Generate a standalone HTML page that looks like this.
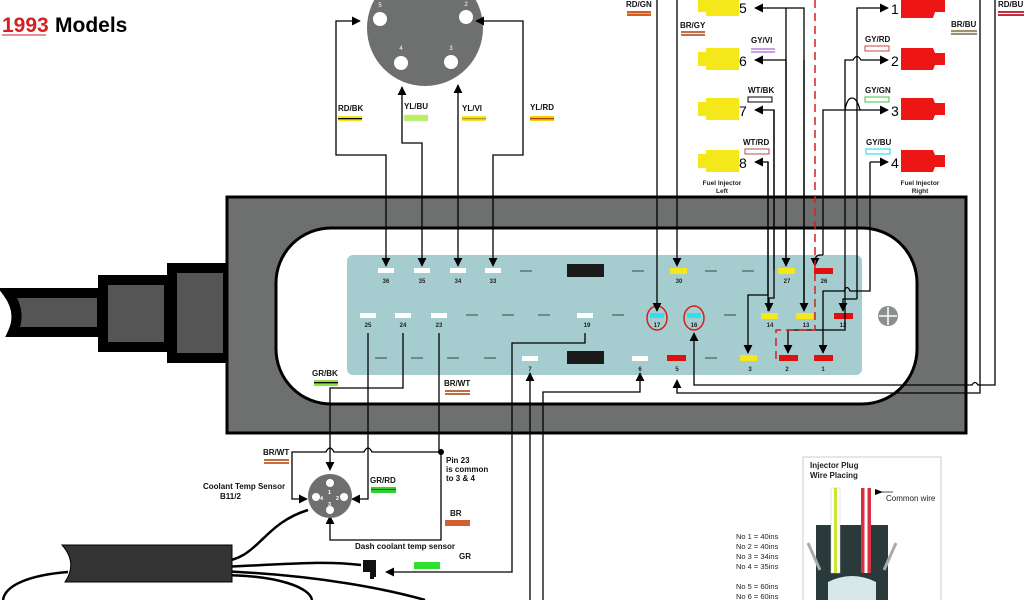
<!DOCTYPE html>
<html><head><meta charset="utf-8"><style>
html,body{margin:0;padding:0;background:#fff;}
svg{display:block;font-family:"Liberation Sans",Arial,sans-serif;}
</style></head><body>
<svg width="1024" height="600" viewBox="0 0 1024 600" xmlns="http://www.w3.org/2000/svg">
<defs>
<marker id="a" viewBox="0 0 10 10" refX="9" refY="5" markerWidth="9" markerHeight="9" markerUnits="userSpaceOnUse" orient="auto"><path d="M0,0 L10,5 L0,10 z" fill="#000"/></marker>
</defs>
<rect width="1024" height="600" fill="#fff"/>
<text x="2" y="32" font-size="21" font-weight="bold" fill="#d42020">1993</text>
<line x1="2" y1="35" x2="46" y2="35" stroke="#d42020" stroke-width="1"/>
<text x="55" y="32" font-size="21" font-weight="bold" fill="#000">Models</text>

<!-- cable into box -->
<path d="M8,293 L102,293 L102,332 L13,332 Q22,312 8,293z" fill="#555" stroke="#000" stroke-width="10"/>
<rect x="103" y="280" width="66" height="67" fill="#555" stroke="#000" stroke-width="10"/>
<rect x="172" y="268" width="56" height="90" fill="#555" stroke="#000" stroke-width="10"/>

<rect x="227" y="197" width="739" height="236" fill="#6e7070" stroke="#000" stroke-width="3"/>
<rect x="276" y="228" width="641" height="176" rx="55" fill="#fff" stroke="#000" stroke-width="3"/>
<rect x="347" y="255" width="515" height="120" rx="6" fill="#a5cdd0"/>

<g stroke="#6a8a8c" stroke-width="2">
<line x1="520" y1="271" x2="532" y2="271"/><line x1="632" y1="271" x2="644" y2="271"/><line x1="705" y1="271" x2="717" y2="271"/><line x1="742" y1="271" x2="754" y2="271"/>
<line x1="466" y1="315" x2="478" y2="315"/><line x1="502" y1="315" x2="514" y2="315"/><line x1="538" y1="315" x2="550" y2="315"/><line x1="612" y1="315" x2="624" y2="315"/><line x1="724" y1="315" x2="736" y2="315"/>
<line x1="375" y1="358" x2="387" y2="358"/><line x1="411" y1="358" x2="423" y2="358"/><line x1="447" y1="358" x2="459" y2="358"/><line x1="484" y1="358" x2="496" y2="358"/><line x1="705" y1="358" x2="717" y2="358"/>
</g>
<rect x="567" y="264" width="37" height="13" fill="#1a1a1a"/>
<rect x="567" y="351" width="37" height="13" fill="#1a1a1a"/>

<g>
<rect x="378" y="268" width="16" height="5" fill="#fff"/><rect x="414" y="268" width="16" height="5" fill="#fff"/><rect x="450" y="268" width="16" height="5" fill="#fff"/><rect x="485" y="268" width="16" height="5" fill="#fff"/>
<rect x="670" y="268" width="17" height="6" fill="#f5e81a"/><rect x="778" y="268" width="17" height="6" fill="#f5e81a"/><rect x="814" y="268" width="19" height="6" fill="#e01010"/>
<rect x="360" y="313" width="16" height="5" fill="#fff"/><rect x="395" y="313" width="16" height="5" fill="#fff"/><rect x="431" y="313" width="16" height="5" fill="#fff"/><rect x="577" y="313" width="16" height="5" fill="#fff"/>
<ellipse cx="657" cy="318" rx="10" ry="12" fill="none" stroke="#d02020" stroke-width="1.5"/><rect x="650" y="313" width="14" height="5" fill="#30e0f0"/>
<ellipse cx="694" cy="318" rx="10" ry="12" fill="none" stroke="#d02020" stroke-width="1.5"/><rect x="687" y="313" width="14" height="5" fill="#30e0f0"/>
<rect x="761" y="313" width="17" height="6" fill="#f5e81a"/><rect x="796" y="313" width="17" height="6" fill="#f5e81a"/><rect x="834" y="313" width="19" height="6" fill="#e01010"/>
<rect x="522" y="356" width="16" height="5" fill="#fff"/><rect x="632" y="356" width="16" height="5" fill="#fff"/><rect x="667" y="355" width="19" height="6" fill="#e01010"/>
<rect x="740" y="355" width="17" height="6" fill="#f5e81a"/><rect x="779" y="355" width="19" height="6" fill="#e01010"/><rect x="814" y="355" width="19" height="6" fill="#e01010"/>
</g>
<g font-size="6" font-weight="bold" text-anchor="middle" fill="#222">
<text x="386" y="283">36</text><text x="422" y="283">35</text><text x="458" y="283">34</text><text x="493" y="283">33</text><text x="679" y="283">30</text><text x="787" y="283">27</text><text x="824" y="283">26</text>
<text x="368" y="327">25</text><text x="403" y="327">24</text><text x="439" y="327">23</text><text x="587" y="327">19</text><text x="657" y="327">17</text><text x="694" y="327">16</text><text x="770" y="327">14</text><text x="806" y="327">13</text><text x="843" y="327">12</text>
<text x="530" y="371">7</text><text x="640" y="371">6</text><text x="677" y="371">5</text><text x="750" y="371">3</text><text x="787" y="371">2</text><text x="823" y="371">1</text>
</g>
<circle cx="888" cy="316" r="10" fill="#8a8e8e"/><path d="M888,307 V325 M879,316 H897" stroke="#fff" stroke-width="1.5"/>

<!-- top round connector -->
<circle cx="425" cy="28" r="58" fill="#6e7070"/>
<circle cx="380" cy="19" r="7" fill="#fff"/><circle cx="466" cy="17" r="7" fill="#fff"/><circle cx="401" cy="63" r="7" fill="#fff"/><circle cx="451" cy="62" r="7" fill="#fff"/>
<g font-size="6" fill="#fff" text-anchor="middle"><text x="380" y="7">5</text><text x="466" y="6">2</text><text x="401" y="50">4</text><text x="451" y="50">3</text></g>

<g fill="none" stroke="#000" stroke-width="1.3">
<path d="M386,196 V155 H336 V21 H360" marker-end="url(#a)"/>
<path d="M422,196 V143 H402 V87" marker-end="url(#a)"/>
<path d="M458,196 V85" marker-end="url(#a)"/>
<path d="M493,196 V155 H523 V21 H476" marker-end="url(#a)"/>
<path d="M386,196 V266" marker-end="url(#a)"/>
<path d="M422,196 V266" marker-end="url(#a)"/>
<path d="M458,196 V266" marker-end="url(#a)"/>
<path d="M493,196 V266" marker-end="url(#a)"/>
<path d="M657,0 V311" marker-end="url(#a)"/>
<path d="M677,0 V266" marker-end="url(#a)"/>
<path d="M995,0 V385 H978 Q975,380 972,385 H694 V333" marker-end="url(#a)"/>
<path d="M980,0 V393 H677 V380" marker-end="url(#a)"/>
<path d="M804,310 V8 H755" marker-end="url(#a)"/>
<path d="M786,266 V60 H755" marker-end="url(#a)"/>
<path d="M774,270 V110 H755" marker-end="url(#a)"/>
<path d="M768,311 V162 H755" marker-end="url(#a)"/>
<path d="M823,180 V110 H860 Q857,98 852,98 Q847,98 845,110 H848 H888" marker-end="url(#a)"/>
<path d="M845,290 V60 H853 Q857,53 861,60 H888" marker-end="url(#a)"/>
<path d="M857,299 V8 H888" marker-end="url(#a)"/>
<path d="M870,162 H888" marker-end="url(#a)"/>
<path d="M870,162 V291 H850 Q847,284 844,291 H823 V353" marker-end="url(#a)"/>
<path d="M823,180 V255 M823,255 H820 Q815,255 815,262 V266" marker-end="url(#a)"/>
<path d="M857,299 H843 V311" marker-end="url(#a)"/>
<path d="M845,290 V330 H788 V353" marker-end="url(#a)"/>
<path d="M768,162 V295 H748 V353" marker-end="url(#a)"/>
<path d="M774,110 V298 H769 V311" marker-end="url(#a)"/>
<path d="M804,60 V311" marker-end="url(#a)"/>
<path d="M786,8 V266" marker-end="url(#a)"/>
<path d="M403,333 V388 H330 V470" marker-end="url(#a)"/>
<path d="M368,333 V499 H352" marker-end="url(#a)"/>
<path d="M439,333 V452 H372 Q368,444 364,452 H334 Q330,444 326,452 H292 V499 H307" marker-end="url(#a)"/>
<path d="M441,452 V540 H330 V516" marker-end="url(#a)"/>
<path d="M585,333 V343 H512 V572 H386" marker-end="url(#a)"/>
<path d="M530,600 V373" marker-end="url(#a)"/>
<path d="M543,600 V392 H640 V373" marker-end="url(#a)"/>
</g>
<circle cx="441" cy="452" r="3" fill="#000"/>
<path d="M815,0 V330 H776 V362" fill="none" stroke="#d42020" stroke-width="1.5" stroke-dasharray="8,5"/>

<g fill="#f5e81a">
<rect x="706" y="-8" width="33" height="24"/><rect x="706" y="48" width="33" height="22"/><rect x="706" y="98" width="33" height="22"/><rect x="706" y="150" width="33" height="22"/>
<rect x="698" y="-4" width="9" height="16"/><rect x="698" y="52" width="9" height="14"/><rect x="698" y="102" width="9" height="14"/><rect x="698" y="154" width="9" height="14"/>
</g>
<g font-size="14" fill="#000"><text x="739" y="13">5</text><text x="739" y="66">6</text><text x="739" y="116">7</text><text x="739" y="168">8</text>
<text x="891" y="14">1</text><text x="891" y="66">2</text><text x="891" y="116">3</text><text x="891" y="168">4</text></g>
<g fill="#ee1515">
<path d="M901,-10 H933 L935,-3 H945 V12 H935 L933,18 H901z"/>
<path d="M901,48 H933 L935,53 H945 V65 H935 L933,70 H901z"/>
<path d="M901,98 H933 L935,103 H945 V115 H935 L933,120 H901z"/>
<path d="M901,150 H933 L935,155 H945 V167 H935 L933,172 H901z"/>
</g>
<g font-size="6.5" font-weight="bold" text-anchor="middle" fill="#222"><text x="722" y="185">Fuel Injector</text><text x="722" y="193">Left</text><text x="920" y="185">Fuel Injector</text><text x="920" y="193">Right</text></g>

<g font-size="8" font-weight="bold" fill="#111">
<text x="338" y="111">RD/BK</text><text x="404" y="109">YL/BU</text><text x="462" y="111">YL/VI</text><text x="530" y="110">YL/RD</text>
<text x="626" y="7">RD/GN</text><text x="680" y="28">BR/GY</text><text x="751" y="43">GY/VI</text><text x="748" y="93">WT/BK</text><text x="743" y="145">WT/RD</text>
<text x="865" y="42">GY/RD</text><text x="865" y="93">GY/GN</text><text x="866" y="145">GY/BU</text><text x="951" y="27">BR/BU</text><text x="998" y="7">RD/BU</text>
<text x="312" y="376">GR/BK</text><text x="444" y="386">BR/WT</text><text x="263" y="455">BR/WT</text><text x="370" y="483">GR/RD</text><text x="450" y="516">BR</text><text x="459" y="559">GR</text>
<text x="203" y="489">Coolant Temp Sensor</text><text x="220" y="499">B11/2</text>
<text x="355" y="549">Dash coolant temp sensor</text>
<text x="446" y="463">Pin 23</text><text x="446" y="472">is common</text><text x="446" y="481">to 3 &amp; 4</text>
</g>
<g>
<rect x="338" y="116" width="24" height="5" fill="#f5e81a"/><rect x="338" y="118" width="24" height="1.3" fill="#000"/>
<rect x="404" y="115" width="24" height="6" fill="#b8f060" stroke="#ddd" stroke-width=".5"/>
<rect x="462" y="116" width="24" height="5" fill="#f5e81a"/><rect x="462" y="118" width="24" height="1.3" fill="#b89030"/>
<rect x="530" y="116" width="24" height="5" fill="#f5d000"/><rect x="530" y="118" width="24" height="1.3" fill="#b04010"/>
<rect x="627" y="11" width="24" height="5" fill="#d06020"/><rect x="627" y="13" width="24" height="1" fill="#f0a060"/>
<rect x="681" y="31" width="24" height="5" fill="#c07050"/><rect x="681" y="33" width="24" height="1" fill="#eee"/>
<rect x="751" y="48" width="24" height="5" fill="#c8a0e0"/><rect x="751" y="50" width="24" height="1" fill="#fff"/>
<rect x="748" y="97" width="24" height="5" fill="#fff" stroke="#000" stroke-width="1"/>
<rect x="745" y="149" width="24" height="5" fill="#fff" stroke="#b05050" stroke-width="1"/>
<rect x="865" y="46" width="24" height="5" fill="#fff" stroke="#d04040" stroke-width="1"/>
<rect x="865" y="97" width="24" height="5" fill="#fff" stroke="#40c040" stroke-width="1"/>
<rect x="866" y="149" width="24" height="5" fill="#fff" stroke="#40d8e8" stroke-width="1.2"/>
<rect x="951" y="30" width="26" height="5" fill="#a09070"/><rect x="951" y="32" width="26" height="1" fill="#eee"/>
<rect x="998" y="11" width="26" height="5" fill="#c03040"/><rect x="998" y="13" width="26" height="1" fill="#fff"/>
<rect x="314" y="380" width="24" height="6" fill="#90e040"/><rect x="314" y="382" width="24" height="1.3" fill="#000"/>
<rect x="445" y="390" width="25" height="5" fill="#c07040"/><rect x="445" y="392" width="25" height="1" fill="#fff"/>
<rect x="264" y="459" width="25" height="5" fill="#c07040"/><rect x="264" y="461" width="25" height="1" fill="#fff"/>
<rect x="371" y="487" width="25" height="6" fill="#30d030"/><rect x="371" y="489" width="25" height="1" fill="#107010"/>
<rect x="445" y="520" width="25" height="6" fill="#d06030"/>
<rect x="414" y="562" width="26" height="7" fill="#30e030"/>
</g>

<circle cx="330" cy="496" r="22" fill="#6e7070"/>
<circle cx="330" cy="483" r="4" fill="#fff"/><circle cx="316" cy="497" r="4" fill="#fff"/><circle cx="344" cy="497" r="4" fill="#fff"/><circle cx="330" cy="510" r="4" fill="#fff"/>
<g font-size="5.5" fill="#fff" font-weight="bold"><text x="328" y="494">1</text><text x="320" y="500">4</text><text x="336" y="500">2</text><text x="328" y="506">3</text></g>

<g fill="none" stroke="#000" stroke-width="2.5">
<path d="M308,510 C260,525 260,560 218,562"/>
<path d="M218,567 C280,565 320,560 361,565"/>
<path d="M218,571 C320,575 390,590 425,600"/>
<path d="M218,575 C280,575 310,588 312,600"/>
<path d="M68,572 C30,575 5,585 3,600"/>
</g>
<path d="M62,545 H232 V582 H65 Q78,563 62,545z" fill="#333" stroke="#000"/>
<path d="M361,560 H376 V577 H371 V572 H363 V560z" fill="#111"/>
<rect x="370" y="571" width="4" height="8" fill="#111"/>

<rect x="803" y="457" width="138" height="150" fill="#fff" stroke="#ccc"/>
<g font-size="8" font-weight="bold" fill="#222"><text x="810" y="468">Injector Plug</text><text x="810" y="478">Wire Placing</text></g>
<text x="886" y="501" font-size="8" fill="#222">Common wire</text>
<path d="M883,492 L875,489 L875,495z" fill="#000"/><line x1="880" y1="492" x2="893" y2="492" stroke="#000" stroke-width=".7"/>
<rect x="816" y="525" width="72" height="80" fill="#2a3a3a"/>
<path d="M808,543 L820,570 M896,543 L884,570" stroke="#aaa" stroke-width="3"/>
<path d="M828,582 Q852,570 876,582 V600 H828z" fill="#d8e8e8"/>
<rect x="831" y="488" width="9" height="85" fill="#fff" stroke="#ccc" stroke-width=".5"/><rect x="834" y="488" width="3" height="85" fill="#c8e830"/>
<rect x="861" y="488" width="10" height="85" fill="#d83040"/><rect x="864.5" y="488" width="3" height="85" fill="#fff"/>
<g font-size="7.5" fill="#222"><text x="736" y="539">No 1 = 40ins</text><text x="736" y="549">No 2 = 40ins</text><text x="736" y="559">No 3 = 34ins</text><text x="736" y="569">No 4 = 35ins</text><text x="736" y="589">No 5 = 60ins</text><text x="736" y="599">No 6 = 60ins</text></g>
</svg>
</body></html>
